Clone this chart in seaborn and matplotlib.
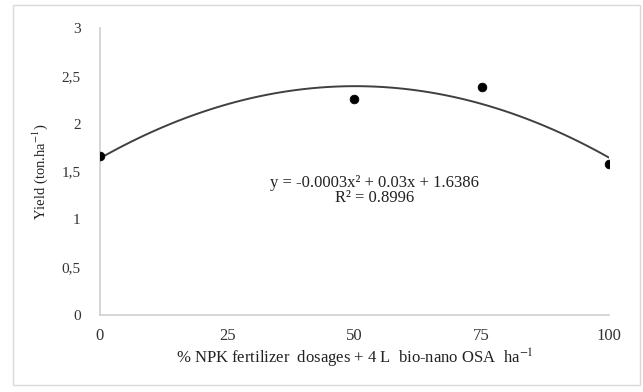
import numpy as np
import pandas as pd
import matplotlib
matplotlib.use("Agg")
import matplotlib.pyplot as plt
import seaborn as sns
from matplotlib.patches import Rectangle

# NPK dose (%) and yield
npk_dose = [0, 50, 75, 100]
yield_ton = [1.66, 2.26, 2.38, 1.58]

x_ticks = [0, 25, 50, 75, 100]
y_ticks = [0, 0.5, 1, 1.5, 2, 2.5, 3]
y_tick_labels = ["0", "0,5", "1", "1,5", "2", "2,5", "3"]

eq_text = "y = -0.0003x\u00b2 + 0.03x + 1.6386"
r2_text = "R\u00b2 = 0.8996"

df = pd.DataFrame({"dose": npk_dose, "yield": yield_ton})

sns.set_style("white")
plt.rcParams["font.family"] = ["Liberation Serif", "DejaVu Serif"]
plt.rcParams["mathtext.fontset"] = "stix"

fig = plt.figure(figsize=(6.43, 3.92), dpi=100)
ax = fig.add_axes([0.1555, 0.196, 0.7915, 0.733])

# quadratic trendline, like the Excel one
sns.regplot(data=df, x="dose", y="yield", order=2, ci=None, ax=ax,
            scatter=False, truncate=True,
            line_kws={"color": "#404040", "linewidth": 1.4})
sns.scatterplot(data=df, x="dose", y="yield", ax=ax, color="black",
                s=40, edgecolor="black", zorder=3)

ax.set_xlim(0, 100)
ax.set_ylim(0, 3)
ax.set_xticks(x_ticks)
ax.set_yticks(y_ticks)
ax.set_yticklabels(y_tick_labels)
ax.tick_params(axis="x", length=0, pad=9, labelsize=12, colors="#333333")
ax.tick_params(axis="y", length=0, pad=14, labelsize=11, colors="#333333")

for side in ["top", "right"]:
    ax.spines[side].set_visible(False)
for side in ["left", "bottom"]:
    ax.spines[side].set_color("#d0d0d0")
    ax.spines[side].set_linewidth(1.2)

ax.set_xlabel("% NPK fertilizer  dosages + 4 L  bio-nano OSA  ha$^{-1}$",
              fontsize=12, color="#222222", labelpad=2)
ax.set_ylabel("Yield (ton.ha$^{-1}$)", fontsize=10.5, color="#222222", labelpad=8)

ax.text(54, 1.30, eq_text + "\n" + r2_text, ha="center", va="center",
        multialignment="center", linespacing=0.95, fontsize=12, color="#222222")

# light chart border
fig.patches.append(Rectangle((0.02, 0.018), 0.975, 0.968, transform=fig.transFigure,
                             fill=False, edgecolor="#d9d9d9", linewidth=1.0))

fig.savefig("out.png", dpi=100)
